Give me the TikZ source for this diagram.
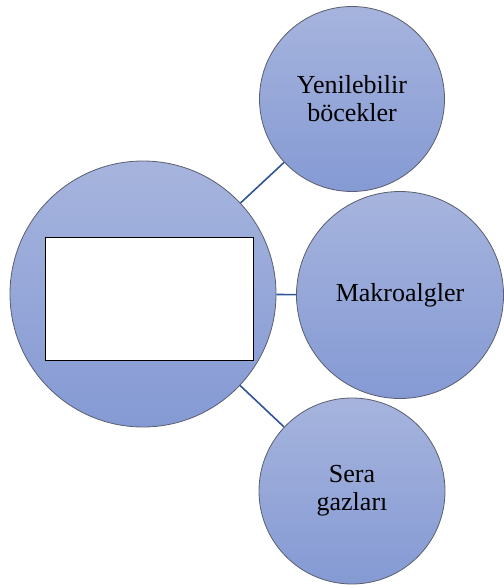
\documentclass[tikz,border=0pt]{standalone}
\usepackage{fontspec}
\setmainfont{Liberation Serif}
\definecolor{ctop}{RGB}{166,180,221}
\definecolor{cbot}{RGB}{133,154,212}
\definecolor{cline}{RGB}{47,85,151}
\definecolor{cedge}{RGB}{90,95,110}
\begin{document}
\begin{tikzpicture}[x=1pt,y=-1pt,
  bubble/.style={circle,draw=cedge,line width=0.8pt,top color=ctop,bottom color=cbot,
    inner sep=0pt,align=center,font=\fontsize{26}{28}\selectfont},
  link/.style={draw=cline,line width=1.6pt},
  box/.style={draw=black,fill=white,line width=1pt,minimum width=208pt,minimum height=123pt,inner sep=0pt}]
\useasboundingbox (0,0) rectangle (503,588);
\node[bubble,minimum size=266pt] (main) at (143,294) {};
\node[box] (rect) at (149,298.5) {};
\node[bubble,minimum size=185pt] (top) at (352,99) {Yenilebilir\\böcekler};
\node[bubble,minimum size=207pt] (mid) at (400,295) {Makroalgler};
\node[bubble,minimum size=186pt] (bot) at (352,491) {Sera\\gazları};
\draw[link] (main) -- (top);
\draw[link] (main) -- (mid);
\draw[link] (main) -- (bot);
\end{tikzpicture}
\end{document}
